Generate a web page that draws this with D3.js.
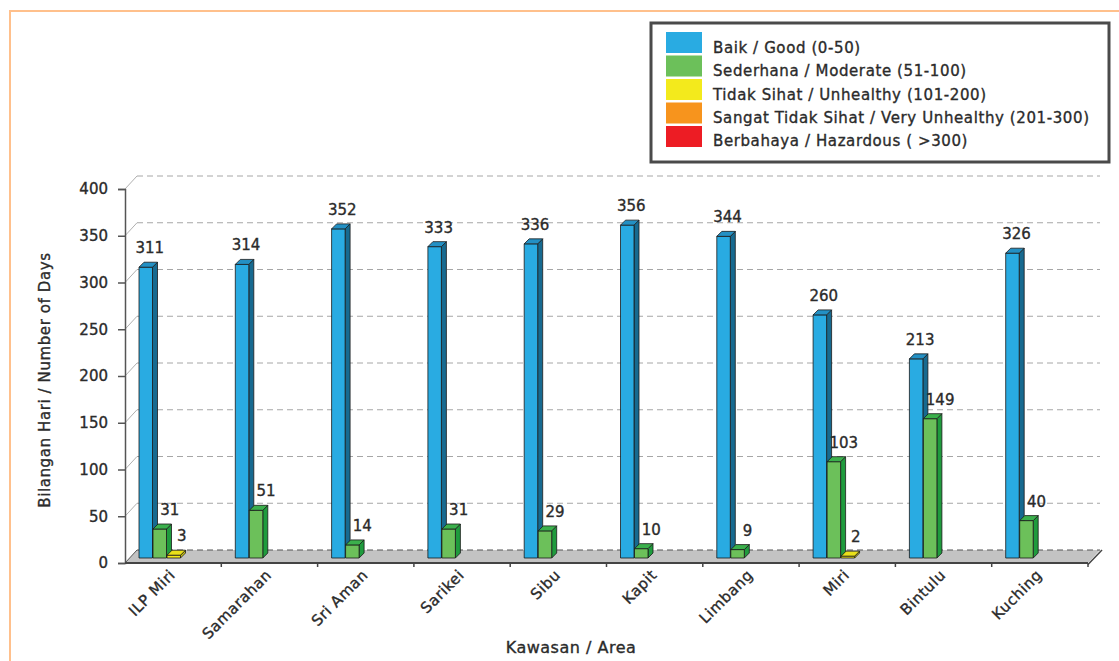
<!DOCTYPE html>
<html>
<head>
<meta charset="utf-8">
<script src="https://cdn.jsdelivr.net/npm/d3@7"></script>
<style>
  html, body { margin: 0; padding: 0; background: #fff; }
  svg { display: block; }
  text { font-family: "DejaVu Sans", "Noto Sans", sans-serif; fill: #2b2b2b; stroke: #2b2b2b; stroke-width: 0.35px; }
</style>
</head>
<body>
<svg id="chart" width="1119" height="661"></svg>
<script>
// Air quality (API) days per monitoring area, by category
const areas = ["ILP Miri", "Samarahan", "Sri Aman", "Sarikei", "Sibu", "Kapit", "Limbang", "Miri", "Bintulu", "Kuching"];
const goodDays = [311, 314, 352, 333, 336, 356, 344, 260, 213, 326];
const moderateDays = [31, 51, 14, 31, 29, 10, 9, 103, 149, 40];
const unhealthyDays = [3, 0, 0, 0, 0, 0, 0, 2, 0, 0];
const veryUnhealthyDays = [0, 0, 0, 0, 0, 0, 0, 0, 0, 0];
const hazardousDays = [0, 0, 0, 0, 0, 0, 0, 0, 0, 0];
const seriesNames = [
  "Baik / Good (0-50)",
  "Sederhana / Moderate (51-100)",
  "Tidak Sihat / Unhealthy (101-200)",
  "Sangat Tidak Sihat / Very Unhealthy (201-300)",
  "Berbahaya / Hazardous ( >300)"
];
const yTicks = [0, 50, 100, 150, 200, 250, 300, 350, 400];
const yTitle = "Bilangan Hari / Number of Days";
const xTitle = "Kawasan / Area";

// Face colours per series: front, side, top
const palette = [
  { front: "#29abe2", side: "#176a90", top: "#2390c4" },
  { front: "#6cc05a", side: "#1f9b3d", top: "#3bb04c" },
  { front: "#f3ea1c", side: "#c9c010", top: "#e9e01a" },
  { front: "#f7941d", side: "#c06a0c", top: "#e5841a" },
  { front: "#ed1c24", side: "#a81116", top: "#d5161d" }
];
const labelShift = [4, 10, 8, 8, 8];

const series = [goodDays, moderateDays, unhealthyDays, veryUnhealthyDays, hazardousDays]
  .map((values, k) => ({ name: seriesNames[k], values, k }));

const svg = d3.select("#chart");

// page frame
svg.append("rect")
  .attr("x", 10).attr("y", 11).attr("width", 1140).attr("height", 700)
  .attr("fill", "none").attr("stroke", "#ffc08c").attr("stroke-width", 2);

// scales
const x = d3.scaleBand().domain(areas).range([125, 1088]).padding(0);
const xs = d3.scaleBand().domain(d3.range(series.length)).range([14, 84]).padding(0);
const y = d3.scaleLinear().domain([0, 400]).range([563, 189]);

const WALL_DX = 12, WALL_DY = -13;   // depth of the chart box
const BAR_DY = -5;                    // bar plane sits slightly back from the front edge
const BAR_D = 5;                      // depth of each bar
const barW = xs.bandwidth() - 0.5;

const [xLeft, xRight] = x.range();

// floor
svg.append("polygon")
  .attr("points", [
    [xLeft, y(0)], [xRight, y(0)], [xRight + WALL_DX, y(0) + WALL_DY], [xLeft + WALL_DX, y(0) + WALL_DY]
  ].map(p => p.join(",")).join(" "))
  .attr("fill", "#c3c3c3").attr("stroke", "none");

// gridlines on the back wall, with their slanted joins to the axis
const grid = svg.append("g");
yTicks.forEach(v => {
  grid.append("line")
    .attr("x1", xLeft + WALL_DX).attr("x2", xRight + WALL_DX)
    .attr("y1", y(v) + WALL_DY).attr("y2", y(v) + WALL_DY)
    .attr("stroke", v === 0 ? "#555" : "#a6a6a6")
    .attr("stroke-width", 1)
    .attr("stroke-dasharray", "6,4");
  grid.append("line")
    .attr("x1", xLeft).attr("x2", xLeft + WALL_DX)
    .attr("y1", y(v)).attr("y2", y(v) + WALL_DY)
    .attr("stroke", v === 0 ? "#555" : "#b0b0b0")
    .attr("stroke-width", 1);
});
// floor right edge
svg.append("line")
  .attr("x1", xRight).attr("y1", y(0) + 1.5).attr("x2", xRight + WALL_DX + 2).attr("y2", y(0) + WALL_DY)
  .attr("stroke", "#444").attr("stroke-width", 1.5);

// y axis
const yAxis = svg.append("g")
  .attr("transform", `translate(${xLeft},0)`)
  .call(d3.axisLeft(y).tickValues(yTicks).tickSize(7).tickPadding(10).tickFormat(d3.format("d")));
yAxis.select(".domain").attr("stroke", "#555").attr("stroke-width", 1.5);
yAxis.selectAll(".tick line").attr("stroke", "#555").attr("stroke-width", 1.5);
yAxis.selectAll(".tick text")
  .style("font-family", "'DejaVu Sans', sans-serif")
  .style("font-size", "15px").attr("fill", "#2b2b2b");

// x axis: category names under each band, ticks on band boundaries
const xAxis = svg.append("g")
  .attr("transform", `translate(0,${y(0)})`)
  .call(d3.axisBottom(x).tickSize(0).tickPadding(0));
xAxis.select(".domain").remove();
xAxis.selectAll(".tick text")
  .style("font-family", "'DejaVu Sans', sans-serif")
  .style("font-size", "15px").style("letter-spacing", "0.5px").attr("fill", "#2b2b2b")
  .attr("text-anchor", "end")
  .attr("dy", null)
  .attr("transform", "translate(3,13) rotate(-45)");
svg.append("line")
  .attr("x1", xLeft).attr("x2", xRight).attr("y1", y(0)).attr("y2", y(0))
  .attr("stroke", "#444").attr("stroke-width", 1.8);
svg.append("g").selectAll("line")
  .data(areas.slice(1).map(a => x(a)).concat([xRight]))
  .join("line")
  .attr("x1", d => d).attr("x2", d => d)
  .attr("y1", y(0)).attr("y2", y(0) + 4)
  .attr("stroke", "#444").attr("stroke-width", 1.5);

// 3D bars
const bars = svg.append("g");
series.forEach(s => {
  const col = palette[s.k];
  s.values.forEach((v, i) => {
    if (!v) return;
    const x0 = x(areas[i]) + xs(s.k);
    const yt = y(v) + BAR_DY;
    const yb = y(0) + BAR_DY;
    const g = bars.append("g").attr("stroke", "#1a1a1a").attr("stroke-width", 0.8).attr("stroke-linejoin", "round");
    g.append("polygon")
      .attr("points", [[x0 + barW, yt], [x0 + barW + BAR_D, yt - BAR_D], [x0 + barW + BAR_D, yb - BAR_D], [x0 + barW, yb]]
        .map(p => p.join(",")).join(" "))
      .attr("fill", col.side);
    g.append("rect")
      .attr("x", x0).attr("y", yt).attr("width", barW).attr("height", Math.max(0, yb - yt))
      .attr("fill", col.front);
    g.append("polygon")
      .attr("points", [[x0, yt], [x0 + BAR_D, yt - BAR_D], [x0 + barW + BAR_D, yt - BAR_D], [x0 + barW, yt]]
        .map(p => p.join(",")).join(" "))
      .attr("fill", col.top);
  });
});

// value labels
const labels = svg.append("g");
series.forEach(s => {
  s.values.forEach((v, i) => {
    if (!v) return;
    const x0 = x(areas[i]) + xs(s.k);
    labels.append("text")
      .attr("x", x0 + barW / 2 + labelShift[s.k])
      .attr("y", y(v) + BAR_DY - 14)
      .attr("text-anchor", "middle")
      .style("font-size", "15px")
      .text(v);
  });
});

// axis titles
svg.append("text")
  .attr("transform", `translate(50,${(y(0) + y(400)) / 2 + 4}) rotate(-90)`)
  .attr("text-anchor", "middle")
  .style("font-size", "15px").style("letter-spacing", "0.6px")
  .text(yTitle);
svg.append("text")
  .attr("x", 571).attr("y", 653)
  .attr("text-anchor", "middle")
  .style("font-size", "16px").style("letter-spacing", "0.5px")
  .text(xTitle);

// legend
const legend = svg.append("g");
legend.append("rect")
  .attr("x", 651).attr("y", 23).attr("width", 458).attr("height", 139)
  .attr("fill", "#fff").attr("stroke", "#4a4a4a").attr("stroke-width", 3);
series.forEach((s, k) => {
  legend.append("rect")
    .attr("x", 666).attr("y", 32 + k * 23.5).attr("width", 36).attr("height", 21)
    .attr("fill", palette[k].front);
  legend.append("text")
    .attr("x", 713).attr("y", 53 + k * 23.3)
    .style("font-size", "15px").style("letter-spacing", "0.6px")
    .text(s.name);
});
</script>
</body>
</html>
